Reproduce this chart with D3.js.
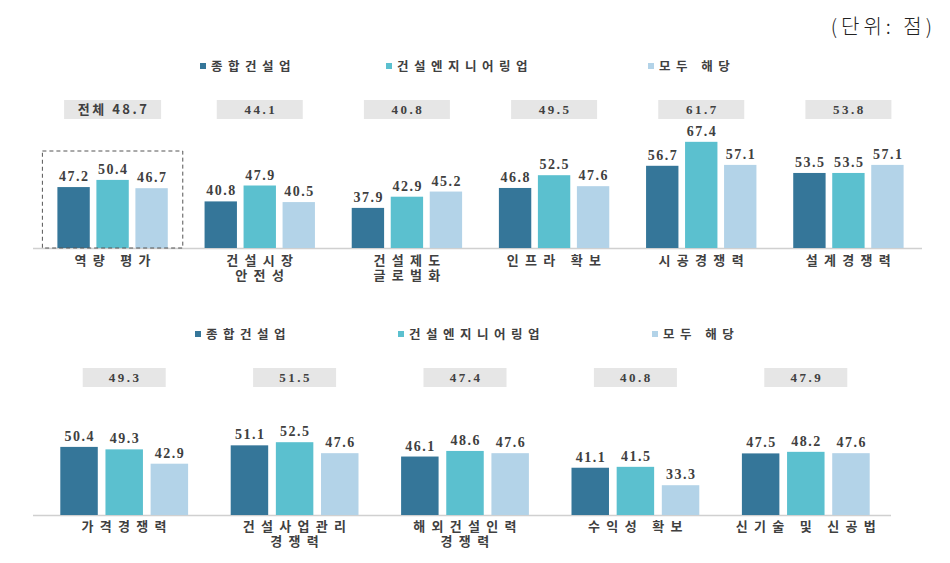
<!DOCTYPE html>
<html><head><meta charset="utf-8">
<script src="https://cdn.jsdelivr.net/npm/d3@7"></script>
<style>
body{margin:0;background:#fff;}
svg{display:block;}
</style></head>
<body>
<svg id="c" width="950" height="563"></svg>
<script>
const seriesNames = ["종합건설업", "건설엔지니어링업", "모두 해당"];
const colors = ["#357699", "#5bc0cf", "#b3d3e8"];

const topCategories = [["역량 평가"], ["건설시장", "안전성"], ["건설제도", "글로벌화"], ["인프라 확보"], ["시공경쟁력"], ["설계경쟁력"]];
const topTotals = ["전체 48.7", "44.1", "40.8", "49.5", "61.7", "53.8"];
const topGeneral = [47.2, 40.8, 37.9, 46.8, 56.7, 53.5];
const topEngineering = [50.4, 47.9, 42.9, 52.5, 67.4, 53.5];
const topBoth = [46.7, 40.5, 45.2, 47.6, 57.1, 57.1];

const botCategories = [["가격경쟁력"], ["건설사업관리", "경쟁력"], ["해외건설인력", "경쟁력"], ["수익성 확보"], ["신기술 및 신공법"]];
const botTotals = ["49.3", "51.5", "47.4", "40.8", "47.9"];
const botGeneral = [50.4, 51.1, 46.1, 41.1, 47.5];
const botEngineering = [49.3, 52.5, 48.6, 41.5, 48.2];
const botBoth = [42.9, 47.6, 47.6, 33.3, 47.6];

const svg = d3.select("#c");
const numFont = "'Liberation Serif', serif";
const krFont = "'Noto Sans CJK KR', sans-serif";
const textColor = "#404040";

svg.append("text").attr("x", 936).attr("y", 34).attr("text-anchor", "end")
  .attr("font-family", krFont).attr("font-weight", 300).attr("font-size", 20)
  .attr("fill", "#222").attr("letter-spacing", 4).text("(단위: 점)");

function legend(y, xs) {
  const g = svg.append("g");
  seriesNames.forEach((n, i) => {
    g.append("rect").attr("x", xs[i]).attr("y", y - 3).attr("width", 6).attr("height", 6).attr("fill", colors[i]);
    g.append("text").attr("x", xs[i] + 11).attr("y", y + 4.5).attr("font-family", krFont)
      .attr("font-weight", 700).attr("font-size", 12.5).attr("letter-spacing", 5.5)
      .attr("fill", textColor).text(n);
  });
}

function panel(opt) {
  const { cats, totals, data, range, baseline, boxY, boxW, firstBoxW, labelY, dashed } = opt;
  const x0 = d3.scaleBand().domain(d3.range(cats.length)).range(range).paddingInner(0.25).paddingOuter(0.125);
  const x1 = d3.scaleBand().domain(d3.range(3)).range([0, x0.bandwidth()]).paddingInner(0.17).paddingOuter(0);
  const y = d3.scaleLinear().domain([20, 70]).range([baseline, baseline - 50 * 2.24]);
  const g = svg.append("g");

  g.append("line").attr("x1", range[0] - 6).attr("x2", range[1]).attr("y1", baseline + 0.5).attr("y2", baseline + 0.5)
    .attr("stroke", "#d0d0d0").attr("stroke-width", 1.5);

  cats.forEach((c, i) => {
    const cx = x0(i) + x0.bandwidth() / 2;
    const bw = i === 0 && firstBoxW ? firstBoxW : boxW;
    g.append("rect").attr("x", cx - bw / 2).attr("y", boxY).attr("width", bw).attr("height", 19).attr("fill", "#e6e6e6");
    g.append("text").attr("x", cx + 1).attr("y", boxY + 14).attr("text-anchor", "middle")
      .attr("font-family", /[가-힣]/.test(totals[i]) ? krFont : numFont).attr("font-weight", 700)
      .attr("font-size", 13).attr("letter-spacing", 2.5).attr("fill", textColor).text(totals[i]);

    data.forEach((arr, s) => {
      const v = arr[i];
      const bx = x0(i) + x1(s);
      g.append("rect").attr("x", bx).attr("y", y(v)).attr("width", x1.bandwidth()).attr("height", baseline - y(v))
        .attr("fill", colors[s]);
      g.append("text").attr("x", bx + x1.bandwidth() / 2 + 0.75).attr("y", y(v) - 6).attr("text-anchor", "middle")
        .attr("font-family", numFont).attr("font-weight", 700).attr("font-size", 14).attr("letter-spacing", 1.5)
        .attr("fill", textColor).text(v.toFixed(1));
    });

    const t = g.append("text").attr("text-anchor", "middle")
      .attr("font-family", krFont).attr("font-weight", 700).attr("font-size", 13).attr("letter-spacing", 6.3)
      .attr("fill", textColor);
    c.forEach((line, li) => {
      t.append("tspan").attr("x", cx + 3).attr("y", labelY + li * 15).text(line);
    });
  });

  if (dashed) {
    const bx = x0(0) - 15, bw = x0.bandwidth() + 30;
    g.append("rect").attr("x", bx).attr("y", baseline - 97).attr("width", bw).attr("height", 97)
      .attr("fill", "none").attr("stroke", "#555").attr("stroke-dasharray", "4,3").attr("stroke-width", 1);
  }
}

legend(66, [200, 386, 648]);
panel({ cats: topCategories, totals: topTotals, data: [topGeneral, topEngineering, topBoth],
  range: [39, 922], baseline: 248, boxY: 100, boxW: 86, firstBoxW: 97, labelY: 265, dashed: true });

legend(334, [195, 398, 652]);
panel({ cats: botCategories, totals: botTotals, data: [botGeneral, botEngineering, botBoth],
  range: [39, 891], baseline: 515, boxY: 368, boxW: 83, labelY: 531, dashed: false });
</script>
</body></html>
